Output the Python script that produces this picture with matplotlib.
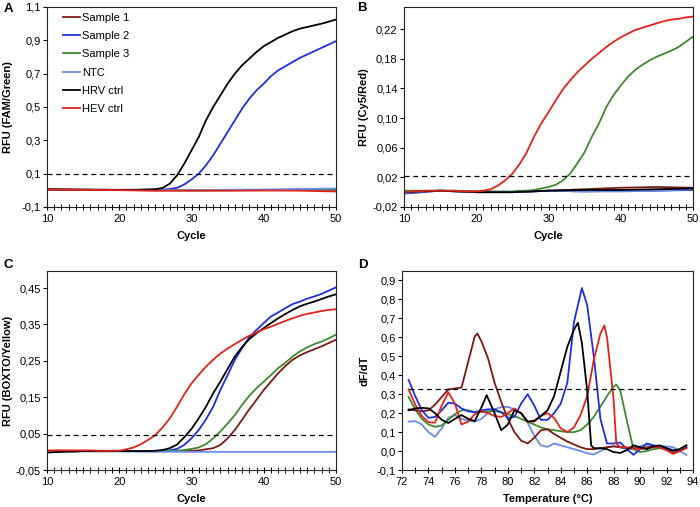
import matplotlib
matplotlib.use("Agg")
import matplotlib.pyplot as plt
from matplotlib.ticker import FixedLocator, MultipleLocator

plt.rcParams['font.family'] = ['Liberation Sans', 'DejaVu Sans']

# ---------------- data ----------------
series_names = ["Sample 1", "Sample 2", "Sample 3", "NTC", "HRV ctrl", "HEV ctrl"]
series_colors = ["#7B1A16", "#1F2FE0", "#3C8C2E", "#6A8BE8", "#000000", "#E2231A"]

cycles = list(range(10, 51))
cycles_coarse = [10, 15, 20, 25, 30, 35, 40, 45, 50]

# Panel A (FAM/Green)
a_s1 = [0.005, 0.003, 0.002, 0.0, 0.0, 0.001, 0.002, 0.004, 0.002]
a_s2 = [0.004, 0.004, 0.004, 0.004, 0.004, 0.004, 0.004, 0.004, 0.004, 0.003, 0.003, 0.003, 0.003,
        0.003, 0.004, 0.004, 0.005, 0.008, 0.015, 0.035, 0.065, 0.1, 0.15, 0.21, 0.28, 0.35, 0.42,
        0.49, 0.55, 0.6, 0.64, 0.685, 0.72, 0.745, 0.77, 0.795, 0.815, 0.835, 0.855, 0.875, 0.895]
a_s3 = [0.004, 0.003, 0.002, 0.001, 0.0, 0.0, 0.001, 0.002, 0.003]
a_ntc = [0.004, 0.003, 0.002, 0.001, 0.002, 0.003, 0.005, 0.008, 0.011]
a_hrv = [0.006, 0.006, 0.005, 0.005, 0.004, 0.004, 0.004, 0.003, 0.003, 0.003, 0.003, 0.003, 0.003,
         0.004, 0.005, 0.007, 0.014, 0.04, 0.09, 0.16, 0.24, 0.32, 0.42, 0.5, 0.57, 0.64, 0.7,
         0.75, 0.79, 0.83, 0.865, 0.89, 0.915, 0.935, 0.955, 0.97, 0.98, 0.99, 1.0, 1.012, 1.025]
a_hev = [0.004, 0.003, 0.001, -0.002, -0.002, -0.002, -0.001, -0.002, -0.007]
a_threshold = 0.1

# Panel B (Cy5/Red)
b_s1 = [0.001, 0.002, 0.001, 0.0, 0.002, 0.004, 0.006, 0.007, 0.006]
b_s2 = [-0.002, 0.002, 0.0, 0.0, 0.002, 0.001, 0.002, 0.002, 0.003]
b_s3 = [0.002, 0.002, 0.002, 0.002, 0.002, 0.002, 0.002, 0.002, 0.001, 0.001, 0.001, 0.001, 0.001,
        0.001, 0.001, 0.001, 0.002, 0.002, 0.003, 0.005, 0.007, 0.01, 0.016, 0.025, 0.039, 0.054,
        0.075, 0.093, 0.115, 0.131, 0.144, 0.156, 0.165, 0.172, 0.178, 0.183, 0.187, 0.191, 0.196,
        0.203, 0.21]
b_ntc = [-0.001, 0.002, 0.0, 0.0, 0.002, 0.001, 0.001, 0.002, 0.004]
b_hrv = [0.0, 0.002, 0.0, 0.0, 0.002, 0.003, 0.003, 0.004, 0.005]
b_hev = [0.0, 0.001, 0.001, 0.002, 0.002, 0.002, 0.002, 0.002, 0.001, 0.001, 0.001, 0.002, 0.004,
         0.009, 0.016, 0.025, 0.038, 0.054, 0.075, 0.093, 0.108, 0.124, 0.139, 0.151, 0.162, 0.171,
         0.18, 0.188, 0.196, 0.203, 0.209, 0.214, 0.219, 0.222, 0.225, 0.228, 0.231, 0.233, 0.234,
         0.236, 0.237]
b_threshold = 0.022

# Panel C (BOXTO/Yellow)
c_s1 = [-0.001, 0.0, 0.001, 0.001, 0.002, 0.002, 0.002, 0.002, 0.002, 0.002, 0.002, 0.002, 0.002,
        0.002, 0.002, 0.002, 0.002, 0.002, 0.002, 0.002, 0.003, 0.004, 0.007, 0.01, 0.019, 0.037,
        0.06, 0.088, 0.117, 0.143, 0.17, 0.193, 0.216, 0.236, 0.253, 0.265, 0.274, 0.282, 0.29,
        0.299, 0.308]
c_s2 = [-0.001, 0.0, 0.001, 0.001, 0.002, 0.002, 0.002, 0.002, 0.002, 0.002, 0.002, 0.002, 0.002,
        0.002, 0.002, 0.002, 0.002, 0.004, 0.008, 0.019, 0.037, 0.06, 0.089, 0.124, 0.17, 0.211,
        0.253, 0.285, 0.315, 0.335, 0.354, 0.372, 0.383, 0.395, 0.406, 0.413, 0.421, 0.427, 0.434,
        0.443, 0.452]
c_s3 = [-0.001, 0.0, 0.001, 0.001, 0.002, 0.002, 0.002, 0.002, 0.002, 0.002, 0.002, 0.002, 0.002,
        0.002, 0.002, 0.002, 0.002, 0.002, 0.003, 0.005, 0.008, 0.012, 0.021, 0.037, 0.056, 0.078,
        0.101, 0.129, 0.154, 0.175, 0.193, 0.211, 0.23, 0.245, 0.262, 0.276, 0.287, 0.296, 0.303,
        0.312, 0.322]
c_ntc = [0.0, 0.001, 0.001, 0.0, 0.0, 0.0, 0.0, 0.0, 0.0]
c_hrv = [-0.002, -0.001, 0.0, 0.001, 0.001, 0.002, 0.002, 0.002, 0.002, 0.002, 0.002, 0.002, 0.002,
         0.002, 0.002, 0.003, 0.005, 0.01, 0.02, 0.04, 0.063, 0.092, 0.124, 0.161, 0.193, 0.228,
         0.262, 0.288, 0.31, 0.326, 0.34, 0.354, 0.367, 0.379, 0.39, 0.4, 0.407, 0.413, 0.42,
         0.427, 0.433]
c_hev = [0.004, 0.004, 0.004, 0.004, 0.004, 0.004, 0.004, 0.003, 0.003, 0.003, 0.003, 0.007, 0.012,
         0.021, 0.033, 0.046, 0.067, 0.092, 0.124, 0.158, 0.188, 0.212, 0.234, 0.253, 0.27, 0.284,
         0.296, 0.308, 0.319, 0.328, 0.337, 0.344, 0.352, 0.36, 0.367, 0.374, 0.379, 0.383, 0.387,
         0.39, 0.392]
c_threshold = 0.046

# Panel D (melt curve, dF/dT)
d_t_s1 = [72.5, 73, 73.5, 74, 74.5, 75, 75.5, 76, 76.5, 77, 77.5, 77.7, 78, 78.5, 79, 79.5, 80, 80.5,
          81, 81.5, 82, 82.5, 83, 83.5, 84, 84.5, 85, 85.5, 86, 86.5, 87, 87.5, 88, 88.5, 89, 89.5,
          90, 90.5, 91, 91.5, 92, 92.5, 93, 93.5]
d_s1 = [0.22, 0.215, 0.21, 0.215, 0.245, 0.285, 0.325, 0.33, 0.335, 0.47, 0.605, 0.62, 0.58, 0.49,
        0.36, 0.26, 0.17, 0.1, 0.055, 0.04, 0.07, 0.11, 0.115, 0.09, 0.07, 0.05, 0.035, 0.02, 0.01,
        0.01, 0.015, 0.02, 0.025, 0.02, 0.015, 0.015, 0.015, 0.02, 0.025, 0.02, 0.005, -0.012, 0.0,
        0.02]
d_t_s2 = [72.5, 73, 73.5, 74, 74.5, 75, 75.5, 76, 76.5, 77, 77.5, 78, 78.5, 79, 79.5, 80, 80.5, 81,
          81.5, 82, 82.5, 83, 83.5, 84, 84.5, 85, 85.6, 86, 86.5, 87, 87.5, 88, 88.5, 89, 89.5, 90,
          90.5, 91, 91.5, 92, 92.5, 93, 93.5]
d_s2 = [0.375, 0.29, 0.215, 0.175, 0.18, 0.215, 0.255, 0.25, 0.225, 0.21, 0.205, 0.215, 0.22, 0.22,
        0.205, 0.175, 0.18, 0.25, 0.3, 0.24, 0.165, 0.165, 0.2, 0.25, 0.36, 0.68, 0.86, 0.77, 0.5,
        0.17, 0.04, 0.04, 0.045, 0.01, -0.02, 0.01, 0.04, 0.03, 0.02, 0.015, 0.005, 0.0, 0.02]
d_t_s3 = [72.5, 73, 73.5, 74, 74.5, 75, 75.5, 76, 76.5, 77, 77.5, 78, 78.5, 79, 79.5, 80, 80.5, 81,
          81.5, 82, 82.5, 83, 83.5, 84, 84.5, 85, 85.5, 86, 86.5, 87, 87.5, 88, 88.2, 88.5, 89, 89.5,
          90, 90.5, 91, 91.5, 92, 92.5, 93, 93.5]
d_s3 = [0.285, 0.22, 0.17, 0.14, 0.128, 0.135, 0.165, 0.195, 0.215, 0.215, 0.205, 0.205, 0.21, 0.21,
        0.205, 0.195, 0.185, 0.17, 0.155, 0.14, 0.125, 0.115, 0.11, 0.105, 0.1, 0.1, 0.11, 0.14,
        0.18, 0.235, 0.29, 0.34, 0.35, 0.32, 0.16, 0.01, -0.005, 0.0, 0.01, 0.015, 0.01, 0.005, 0.01,
        0.03]
d_t_ntc = [72.5, 73, 73.5, 74, 74.5, 75, 75.5, 76, 76.5, 77, 77.5, 78, 78.5, 79, 79.5, 80, 80.5, 81,
           81.5, 82, 82.5, 83, 83.5, 84, 84.5, 85, 85.5, 86, 86.5, 87, 87.5, 88, 88.5, 89, 89.5, 90,
           90.5, 91, 91.5, 92, 92.5, 93, 93.5]
d_ntc = [0.155, 0.158, 0.14, 0.1, 0.075, 0.12, 0.175, 0.19, 0.17, 0.16, 0.155, 0.17, 0.2, 0.22,
         0.232, 0.233, 0.22, 0.2, 0.15, 0.08, 0.03, 0.022, 0.04, 0.03, 0.02, 0.01, 0.0, -0.012,
         -0.018, 0.0, 0.02, 0.025, 0.02, 0.01, 0.01, 0.025, 0.035, 0.03, 0.025, 0.025, 0.02, 0.0,
         -0.02]
d_t_hrv = [72.5, 73, 73.5, 74, 74.5, 75, 75.5, 76, 76.5, 77, 77.5, 78, 78.4, 79, 79.5, 80, 80.5, 81,
           81.5, 82, 82.5, 83, 83.5, 84, 84.5, 85, 85.3, 85.6, 86, 86.3, 86.5, 87, 87.5, 88, 88.5,
           89, 89.5, 90, 90.5, 91, 91.5, 92, 92.5, 93, 93.5]
d_hrv = [0.215, 0.225, 0.228, 0.225, 0.2, 0.165, 0.148, 0.17, 0.19, 0.17, 0.158, 0.23, 0.295, 0.2,
         0.11, 0.14, 0.215, 0.2, 0.155, 0.16, 0.185, 0.215, 0.29, 0.42, 0.55, 0.64, 0.677, 0.57,
         0.32, 0.03, 0.015, 0.015, 0.01, -0.005, -0.01, 0.005, 0.03, 0.02, 0.01, 0.025, 0.03, 0.015,
         0.0, 0.01, 0.03]
d_t_hev = [72.5, 73, 73.5, 74, 74.5, 75, 75.5, 76, 76.5, 77, 77.5, 78, 78.5, 79, 79.5, 80, 80.5, 81,
           81.5, 82, 82.5, 83, 83.5, 84, 84.5, 85, 85.5, 86, 86.5, 87, 87.3, 87.5, 88, 88.2, 88.5,
           89, 89.5, 90, 90.5, 91, 91.5, 92, 92.5, 93, 93.5]
d_hev = [0.325, 0.245, 0.185, 0.152, 0.15, 0.24, 0.31, 0.25, 0.14, 0.155, 0.195, 0.21, 0.2, 0.185,
         0.18, 0.2, 0.225, 0.2, 0.155, 0.155, 0.185, 0.2, 0.175, 0.12, 0.1, 0.125, 0.19, 0.29, 0.48,
         0.62, 0.663, 0.6, 0.27, 0.04, 0.02, 0.02, 0.015, 0.01, 0.015, 0.02, 0.02, 0.005, -0.015,
         0.0, 0.015]
d_threshold = 0.33
d_threshold_range = [72.5, 93.5]

# Tick labels
a_yticks = [-0.1, 0.1, 0.3, 0.5, 0.7, 0.9, 1.1]
a_yticklabels = ["-0,1", "0,1", "0,3", "0,5", "0,7", "0,9", "1,1"]
b_yticks = [-0.02, 0.02, 0.06, 0.10, 0.14, 0.18, 0.22]
b_yticklabels = ["-0,02", "0,02", "0,06", "0,10", "0,14", "0,18", "0,22"]
c_yticks = [-0.05, 0.05, 0.15, 0.25, 0.35, 0.45]
c_yticklabels = ["-0,05", "0,05", "0,15", "0,25", "0,35", "0,45"]
d_yticks = [-0.1, 0.0, 0.1, 0.2, 0.3, 0.4, 0.5, 0.6, 0.7, 0.8, 0.9]
d_yticklabels = ["-0,1", "0,0", "0,1", "0,2", "0,3", "0,4", "0,5", "0,6", "0,7", "0,8", "0,9"]
cycle_ticks = [10, 20, 30, 40, 50]
temp_ticks = [72, 74, 76, 78, 80, 82, 84, 86, 88, 90, 92, 94]

# ---------------- figure ----------------
fig = plt.figure(figsize=(7.0, 5.07), dpi=100)
axA = fig.add_axes([47/700, 1-207/507, 289/700, 200/507])
axB = fig.add_axes([404/700, 1-207/507, 289/700, 200/507])
axC = fig.add_axes([47/700, 1-470/507, 289/700, 199/507])
axD = fig.add_axes([402/700, 1-470/507, 291/700, 199/507])

LW = 1.3
TICKFS = 8
LABFS = 8


def style(ax, yticks, ylabels, xticks, xlim, ylim, minor_step, ylabel, xlabel, ylab_x):
    ax.set_xlim(*xlim)
    ax.set_ylim(*ylim)
    ax.yaxis.set_major_locator(FixedLocator(yticks))
    ax.set_yticklabels(ylabels)
    ax.xaxis.set_major_locator(FixedLocator(xticks))
    ax.set_xticklabels([str(t) for t in xticks])
    ax.xaxis.set_minor_locator(MultipleLocator(minor_step))
    ax.tick_params(axis='x', which='major', direction='inout', length=5, width=0.8,
                   labelsize=TICKFS, pad=2.5, colors='black')
    ax.tick_params(axis='x', which='minor', direction='inout', length=4, width=0.7)
    ax.tick_params(axis='y', which='major', direction='out', length=3, width=0.8,
                   labelsize=TICKFS, pad=1.5)
    for sp in ax.spines.values():
        sp.set_linewidth(0.8)
        sp.set_color('#222222')
    ax.set_ylabel(ylabel, fontsize=LABFS, fontweight='bold')
    ax.set_xlabel(xlabel, fontsize=LABFS, fontweight='bold')
    ax.yaxis.set_label_coords(ylab_x, 0.5)
    ax.xaxis.set_label_coords(0.5, -0.12)


dash_kw = dict(color='black', lw=0.9, ls=(0, (4, 3)))

# Panel A
a_series = [(cycles_coarse, a_s1), (cycles, a_s2), (cycles_coarse, a_s3),
            (cycles_coarse, a_ntc), (cycles, a_hrv), (cycles_coarse, a_hev)]
for (x, y), name, col in zip(a_series, series_names, series_colors):
    axA.plot(x, y, color=col, lw=LW, label=name)
axA.plot([cycles[0], cycles[-1]], [a_threshold, a_threshold], **dash_kw)
style(axA, a_yticks, a_yticklabels, cycle_ticks, (10, 50), (-0.1, 1.1), 1,
      "RFU (FAM/Green)", "Cycle", -0.118)
leg = axA.legend(loc='upper left', bbox_to_anchor=(0.032, 1.005), frameon=False,
                 fontsize=TICKFS, handlelength=1.5, handletextpad=0.25, labelspacing=0.75,
                 borderaxespad=0.2)

# Panel B
b_series = [(cycles_coarse, b_s1), (cycles_coarse, b_s2), (cycles, b_s3),
            (cycles_coarse, b_ntc), (cycles_coarse, b_hrv), (cycles, b_hev)]
for (x, y), name, col in zip(b_series, series_names, series_colors):
    axB.plot(x, y, color=col, lw=LW)
axB.plot([cycles[0], cycles[-1]], [b_threshold, b_threshold], **dash_kw)
style(axB, b_yticks, b_yticklabels, cycle_ticks, (10, 50), (-0.02, 0.25), 1,
      "RFU (Cy5/Red)", "Cycle", -0.121)

# Panel C
c_series = [(cycles, c_s1), (cycles, c_s2), (cycles, c_s3),
            (cycles_coarse, c_ntc), (cycles, c_hrv), (cycles, c_hev)]
for (x, y), name, col in zip(c_series, series_names, series_colors):
    axC.plot(x, y, color=col, lw=LW)
axC.plot([cycles[0], cycles[-1]], [c_threshold, c_threshold], **dash_kw)
style(axC, c_yticks, c_yticklabels, cycle_ticks, (10, 50), (-0.05, 0.497), 1,
      "RFU (BOXTO/Yellow)", "Cycle", -0.118)

# Panel D
d_series = [(d_t_s1, d_s1), (d_t_s2, d_s2), (d_t_s3, d_s3),
            (d_t_ntc, d_ntc), (d_t_hrv, d_hrv), (d_t_hev, d_hev)]
d_order = [3, 2, 0, 1, 5, 4]
for i in d_order:
    x, y = d_series[i]
    axD.plot(x, y, color=series_colors[i], lw=LW)
axD.plot(d_threshold_range, [d_threshold, d_threshold], **dash_kw)
style(axD, d_yticks, d_yticklabels, temp_ticks, (72, 94), (-0.1, 0.95), 1,
      "dF/dT", "Temperature (°C)", -0.113)

# Panel letters
for lbl, (px, py) in zip("ABCD", [(8, 9), (362, 8), (8, 265), (363, 265)]):
    fig.text(px/700, 1-py/507, lbl, fontsize=9.5, fontweight='bold', ha='center', va='center')

fig.savefig("out.png", dpi=100)
